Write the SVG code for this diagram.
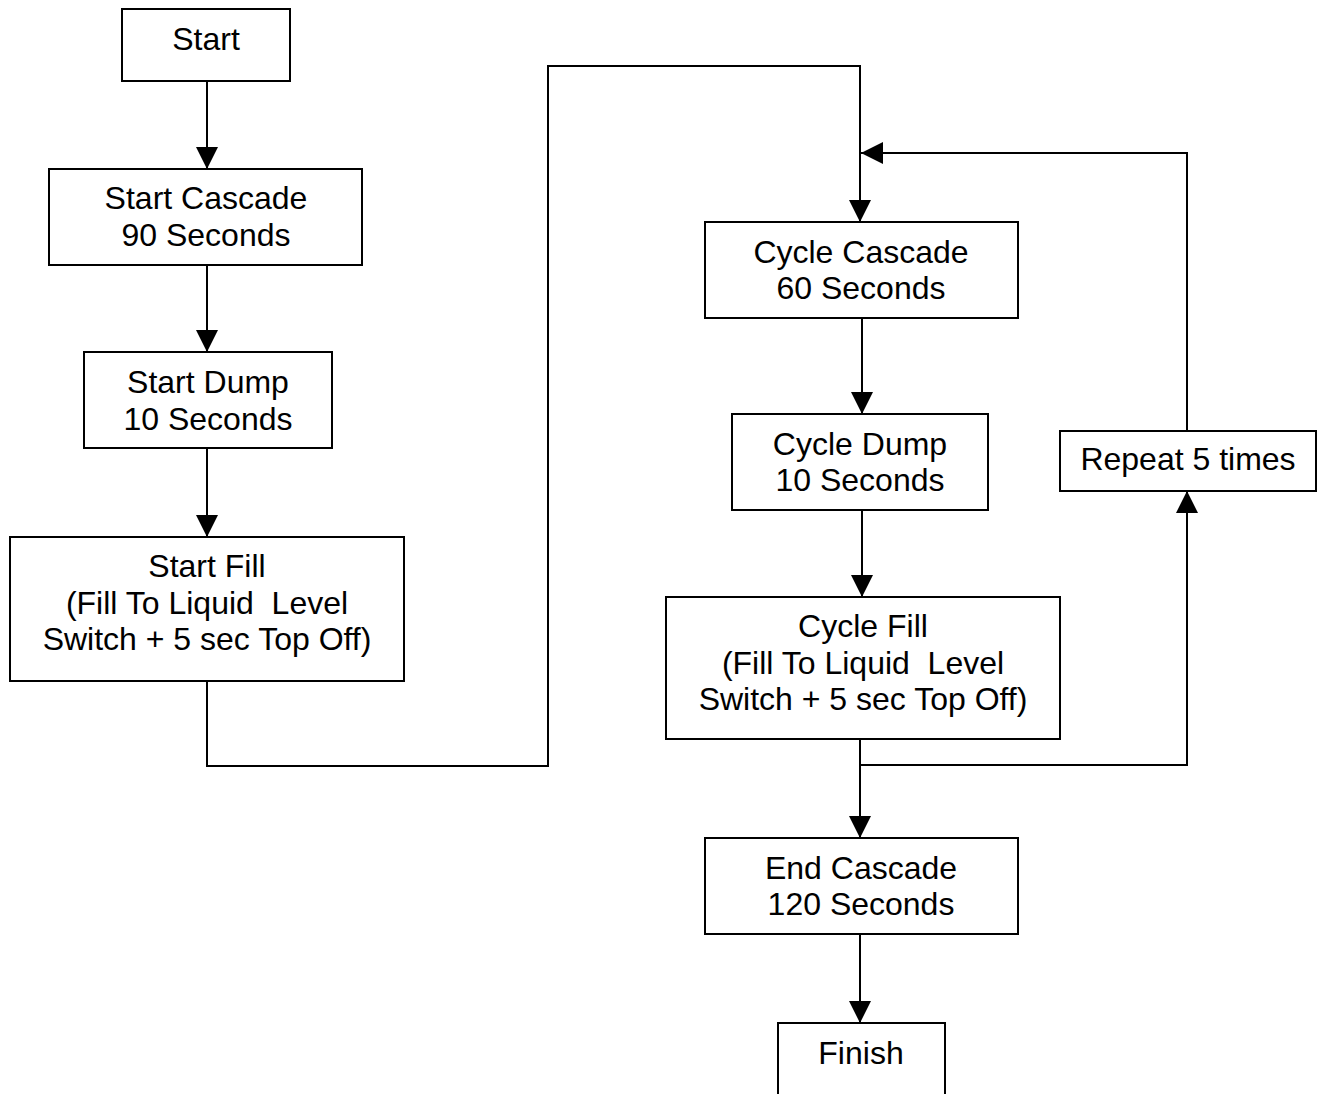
<svg xmlns="http://www.w3.org/2000/svg" width="1317" height="1094" viewBox="0 0 1317 1094">
<style>
.box{fill:#fff;stroke:#000;stroke-width:2}
.t{font-family:"Liberation Sans",Arial,sans-serif;font-size:32px;fill:#000;text-anchor:middle;white-space:pre}
.ln{fill:none;stroke:#000;stroke-width:2}
</style>
<defs>
<marker id="ah" markerUnits="userSpaceOnUse" markerWidth="22" markerHeight="22" viewBox="0 0 22 22" refX="22" refY="11" orient="auto">
<path d="M0,0 L22,11 L0,22 Z" fill="#000"/>
</marker>
</defs>
<rect width="1317" height="1094" fill="#fff"/>
<g id="connectors">
<path class="ln" d="M207,81 V169" marker-end="url(#ah)"/>
<path class="ln" d="M207,265 V352" marker-end="url(#ah)"/>
<path class="ln" d="M207,448 V537" marker-end="url(#ah)"/>
<path class="ln" d="M207,681 V766 H548 V66 H860 V222" marker-end="url(#ah)"/>
<path class="ln" d="M862,318 V414" marker-end="url(#ah)"/>
<path class="ln" d="M862,510 V597" marker-end="url(#ah)"/>
<path class="ln" d="M860,739 V838" marker-end="url(#ah)"/>
<path class="ln" d="M860,765 H1187 V491" marker-end="url(#ah)"/>
<path class="ln" d="M1187,431 V153 H861" marker-end="url(#ah)"/>
<path class="ln" d="M860,934 V1023" marker-end="url(#ah)"/>
</g>
<g id="start">
<rect class="box" x="122" y="9" width="168" height="72"/>
<text class="t" x="206" y="50">Start</text>
</g>
<g id="start-cascade">
<rect class="box" x="49" y="169" width="313" height="96"/>
<text class="t" x="206" y="209">Start Cascade</text>
<text class="t" x="206" y="246">90 Seconds</text>
</g>
<g id="start-dump">
<rect class="box" x="84" y="352" width="248" height="96"/>
<text class="t" x="208" y="393">Start Dump</text>
<text class="t" x="208" y="430">10 Seconds</text>
</g>
<g id="start-fill">
<rect class="box" x="10" y="537" width="394" height="144"/>
<text class="t" x="207" y="577">Start Fill</text>
<text class="t" x="207" y="614">(Fill To Liquid  Level</text>
<text class="t" x="207" y="650">Switch + 5 sec Top Off)</text>
</g>
<g id="cycle-cascade">
<rect class="box" x="705" y="222" width="313" height="96"/>
<text class="t" x="861" y="263">Cycle Cascade</text>
<text class="t" x="861" y="299">60 Seconds</text>
</g>
<g id="cycle-dump">
<rect class="box" x="732" y="414" width="256" height="96"/>
<text class="t" x="860" y="455">Cycle Dump</text>
<text class="t" x="860" y="491">10 Seconds</text>
</g>
<g id="cycle-fill">
<rect class="box" x="666" y="597" width="394" height="142"/>
<text class="t" x="863" y="637">Cycle Fill</text>
<text class="t" x="863" y="674">(Fill To Liquid  Level</text>
<text class="t" x="863" y="710">Switch + 5 sec Top Off)</text>
</g>
<g id="repeat">
<rect class="box" x="1060" y="431" width="256" height="60"/>
<text class="t" x="1188" y="470">Repeat 5 times</text>
</g>
<g id="end-cascade">
<rect class="box" x="705" y="838" width="313" height="96"/>
<text class="t" x="861" y="879">End Cascade</text>
<text class="t" x="861" y="915">120 Seconds</text>
</g>
<g id="finish">
<rect class="box" x="778" y="1023" width="167" height="80"/>
<text class="t" x="861" y="1064">Finish</text>
</g>
</svg>
